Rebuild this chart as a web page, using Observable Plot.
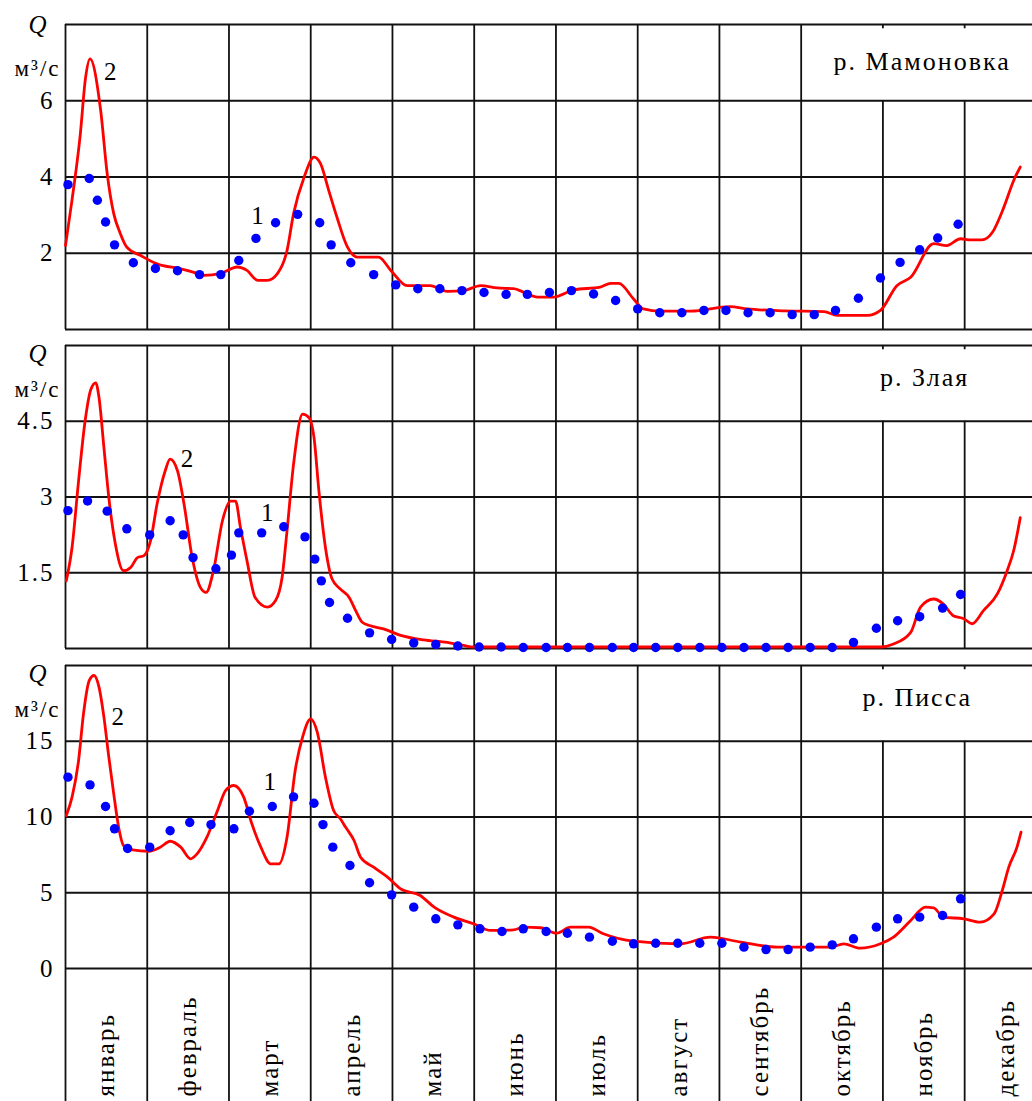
<!DOCTYPE html>
<html><head><meta charset="utf-8">
<script src="https://cdn.jsdelivr.net/npm/d3@7"></script>
<script src="https://cdn.jsdelivr.net/npm/@observablehq/plot@0.6"></script>
<style>
body{margin:0;background:#fff;}
#chart{width:1032px;}
#chart svg{display:block;}
</style></head><body><div id="chart"></div>
<script>
// ---- shared categories ----
const months = ["январь","февраль","март","апрель","май","июнь","июль","август","сентябрь","октябрь","ноябрь","декабрь"];
const monthBounds = [0,1,2,3,4,5,6,7,8,9,10,11];

// ---- р. Мамоновка ----
const mamTicks = [2,4,6];
const mamGrid = [0,2,4,6,8];
const mamDotX = [0.03,0.29,0.39,0.49,0.60,0.83,1.10,1.37,1.64,1.90,2.12,2.33,2.57,2.84,3.11,3.25,3.49,3.77,4.04,4.31,4.58,4.85,5.12,5.39,5.65,5.92,6.19,6.46,6.73,7.00,7.27,7.54,7.81,8.08,8.35,8.62,8.89,9.16,9.42,9.70,9.97,10.21,10.45,10.67,10.92];
const mamDotQ = [3.80,3.96,3.39,2.82,2.22,1.75,1.60,1.54,1.44,1.44,1.81,2.39,2.80,3.02,2.80,2.22,1.75,1.44,1.17,1.07,1.07,1.02,0.97,0.92,0.92,0.97,1.02,0.93,0.76,0.54,0.44,0.44,0.50,0.50,0.44,0.44,0.39,0.39,0.50,0.82,1.35,1.76,2.09,2.40,2.76];
const mamLineX = [0.00,0.08,0.18,0.245,0.30,0.43,0.51,0.59,0.67,0.75,0.92,1.12,1.41,1.57,1.69,1.90,2.10,2.22,2.35,2.47,2.59,2.71,2.79,2.92,3.04,3.12,3.22,3.32,3.45,3.57,3.83,3.98,4.18,4.46,4.67,4.87,5.08,5.28,5.48,5.77,5.97,6.22,6.54,6.67,6.77,6.95,7.07,7.28,7.65,8.13,8.34,8.80,9.28,9.44,9.81,9.97,10.17,10.34,10.62,10.78,10.95,11.07,11.21,11.34,11.48,11.60,11.68];
const mamLineQ = [2.2,3.4,5.1,6.6,7.1,5.75,4.09,3.04,2.52,2.16,1.94,1.72,1.59,1.50,1.42,1.47,1.64,1.55,1.29,1.29,1.46,2.07,3.04,4.00,4.52,4.35,3.65,2.95,2.16,1.90,1.90,1.55,1.15,1.15,1.00,1.02,1.15,1.09,1.07,0.85,0.85,1.04,1.11,1.21,1.21,0.80,0.54,0.48,0.48,0.60,0.54,0.49,0.47,0.37,0.37,0.50,1.15,1.37,2.25,2.20,2.38,2.35,2.35,2.55,3.21,3.91,4.26];

// ---- р. Злая ----
const zlTicks = [1.5,3,4.5];
const zlGrid = [0,1.5,3,4.5,6];
const zlDotX = [0.03,0.27,0.51,0.75,1.03,1.28,1.44,1.56,1.84,2.03,2.12,2.40,2.67,2.93,3.05,3.13,3.23,3.45,3.72,3.99,4.26,4.53,4.80,5.06,5.33,5.60,5.88,6.14,6.41,6.69,6.95,7.22,7.49,7.76,8.03,8.30,8.57,8.84,9.11,9.38,9.64,9.92,10.18,10.45,10.73,10.95];
const zlDotQ = [2.73,2.92,2.72,2.37,2.25,2.53,2.25,1.80,1.58,1.85,2.29,2.29,2.41,2.21,1.77,1.34,0.91,0.60,0.31,0.18,0.11,0.08,0.05,0.03,0.03,0.02,0.02,0.02,0.02,0.02,0.02,0.02,0.02,0.02,0.02,0.02,0.02,0.02,0.02,0.02,0.12,0.40,0.55,0.63,0.80,1.07];
const zlLineX = [0.01,0.08,0.16,0.24,0.31,0.37,0.41,0.47,0.53,0.61,0.71,0.80,0.88,0.96,1.04,1.12,1.22,1.28,1.37,1.45,1.55,1.65,1.72,1.81,1.92,2.02,2.08,2.14,2.22,2.32,2.47,2.57,2.65,2.71,2.79,2.90,2.98,3.04,3.10,3.18,3.26,3.36,3.47,3.55,3.63,3.73,3.89,4.10,4.38,4.67,4.87,4.99,9.97,10.13,10.34,10.46,10.62,10.74,10.86,10.99,11.09,11.23,11.40,11.52,11.60,11.68];
const zlLineQ = [1.34,2.0,3.32,4.51,5.13,5.26,4.97,3.98,2.99,2.07,1.54,1.61,1.80,1.84,2.13,2.86,3.52,3.75,3.52,2.86,1.80,1.21,1.11,1.54,2.53,2.92,2.92,2.40,1.74,1.01,0.82,0.95,1.41,2.33,3.65,4.64,4.57,4.18,3.12,2.0,1.38,1.18,1.01,0.75,0.52,0.45,0.39,0.26,0.17,0.12,0.06,0.03,0.03,0.09,0.32,0.82,0.98,0.88,0.65,0.59,0.49,0.75,1.08,1.54,1.94,2.59];

// ---- р. Писса ----
const piTicks = [0,5,10,15];
const piGrid = [0,5,10,15,20];
const piDotX = [0.03,0.30,0.49,0.60,0.76,1.03,1.28,1.52,1.78,2.06,2.25,2.53,2.79,3.04,3.15,3.27,3.48,3.72,3.99,4.26,4.53,4.80,5.07,5.34,5.60,5.88,6.14,6.41,6.69,6.95,7.22,7.49,7.76,8.03,8.30,8.57,8.84,9.11,9.38,9.64,9.92,10.18,10.45,10.73,10.95];
const piDotQ = [12.63,12.12,10.69,9.22,7.92,8.01,9.09,9.64,9.50,9.22,10.38,10.69,11.33,10.91,9.50,8.01,6.80,5.66,4.86,4.05,3.28,2.88,2.62,2.44,2.62,2.44,2.33,2.07,1.80,1.63,1.67,1.67,1.67,1.67,1.41,1.25,1.25,1.41,1.56,1.96,2.73,3.28,3.39,3.50,4.60];
const piLineX = [0.01,0.08,0.16,0.22,0.29,0.35,0.41,0.47,0.53,0.59,0.65,0.71,0.82,1.02,1.16,1.28,1.41,1.53,1.61,1.73,1.86,1.96,2.06,2.18,2.28,2.39,2.51,2.61,2.71,2.81,2.90,3.00,3.08,3.18,3.28,3.36,3.43,3.53,3.61,3.77,3.94,4.10,4.34,4.51,4.75,4.99,5.20,5.48,5.61,5.81,6.01,6.18,6.40,6.58,6.95,7.52,7.89,8.26,8.71,9.36,9.52,9.72,9.97,10.13,10.34,10.52,10.62,10.74,10.99,11.19,11.36,11.46,11.54,11.64,11.69];
const piLineQ = [10.1,11.31,13.73,16.81,19.0,19.34,18.57,16.59,13.95,11.53,9.33,8.12,7.83,7.74,8.01,8.40,8.01,7.24,7.57,8.67,10.43,11.75,12.08,11.31,9.55,8.01,6.91,6.91,8.67,13.07,15.27,16.48,15.60,12.63,10.43,9.90,9.30,8.45,7.35,6.69,6.03,5.26,4.82,4.05,3.39,2.95,2.51,2.55,2.73,2.69,2.33,2.73,2.73,2.29,1.80,1.63,2.07,1.74,1.41,1.41,1.63,1.34,1.63,2.07,3.17,4.05,4.00,3.39,3.28,3.06,3.61,5.15,6.69,8.01,9.00];

const F = "Liberation Serif";
const gridStyle = {stroke:"#111", strokeWidth:1.8};
const txt = {fontFamily:F, fill:"#000"};

function panel(c){
  const dots = c.dotX.map((x,i)=>({x, q:c.dotQ[i]}));
  const line = c.lineX.map((x,i)=>({x, q:c.lineQ[i]}));
  const top = c.grid[c.grid.length-1];
  const marks = [
    Plot.ruleY(c.grid, gridStyle),
    Plot.ruleX(monthBounds.filter(b=>b<10), gridStyle),
    Plot.ruleX(monthBounds.filter(b=>b>=10), {y1:0, y2:c.boxBottom, ...gridStyle}),
    Plot.ruleX(monthBounds.filter(b=>b>=10), {y1:top, y2:top*0.986, ...gridStyle}),
    Plot.axisY(c.ticks, {tickSize:0, tickPadding:11, fontSize:25, tickFormat:d=>String(d), ...txt}),
    Plot.line(line, {x:"x", y:"q", stroke:"#ff0000", strokeWidth:2.8, curve:"monotone-x"}),
    Plot.dot(dots, {x:"x", y:"q", r:4.7, fill:"#0000ff", stroke:"none"}),
    Plot.text([c.title], {x:c.titleX, y:c.titleQ, fontSize:26, ...txt}),
    Plot.text(c.labels, {x:"x", y:"q", text:"t", fontSize:25, ...txt}),
    Plot.text(["Q"], {frameAnchor:"top-left", dx:-27, dy:c.qDy, fontStyle:"italic", fontSize:25, textAnchor:"middle", lineAnchor:"middle", ...txt}),
    Plot.text(["м³/с"], {frameAnchor:"top-left", dx:-28, dy:44, fontSize:23, textAnchor:"middle", lineAnchor:"middle", ...txt})
  ];
  if (c.months) {
    marks.push(Plot.axisX(monthBounds, {anchor:"bottom", tickSize:133, tickFormat:()=>"", stroke:"#111", strokeWidth:1.8, label:null}));
    marks.push(Plot.text(months, {x:(d,i)=>i+0.5, frameAnchor:"bottom", dy:128, rotate:-90, textAnchor:"start", lineAnchor:"middle", fontSize:25, ...txt}));
  }
  return Plot.plot({
    width:1032, height:c.height,
    marginLeft:65, marginRight:0, marginTop:c.mt, marginBottom:c.mb,
    x:{domain:[0,11.83], axis:null, label:null},
    y:{domain:[0,top], label:null},
    style:{fontFamily:F, fontSize:"24px", background:"#fff", color:"#000", overflow:"visible", letterSpacing:"2px"},
    marks
  });
}

const chart = document.getElementById("chart");
chart.append(panel({
  grid:mamGrid, ticks:mamTicks, dotX:mamDotX, dotQ:mamDotQ, lineX:mamLineX, lineQ:mamLineQ,
  boxBottom:6, title:"р. Мамоновка", titleX:10.48, titleQ:7.03,
  labels:[{x:0.56,q:6.75,t:"2"},{x:2.36,q:2.99,t:"1"}],
  qDy:0, height:337, mt:24, mb:8
}));
chart.append(panel({
  grid:zlGrid, ticks:zlTicks, dotX:zlDotX, dotQ:zlDotQ, lineX:zlLineX, lineQ:zlLineQ,
  boxBottom:4.5, title:"р. Злая", titleX:10.51, titleQ:5.36,
  labels:[{x:1.50,q:3.75,t:"2"},{x:2.48,q:2.69,t:"1"}],
  qDy:8, height:320, mt:8, mb:9
}));
chart.append(panel({
  grid:piGrid, ticks:piTicks, dotX:piDotX, dotQ:piDotQ, lineX:piLineX, lineQ:piLineQ,
  boxBottom:15, title:"р. Писса", titleX:10.42, titleQ:17.9,
  labels:[{x:0.65,q:16.57,t:"2"},{x:2.51,q:12.28,t:"1"}],
  qDy:8, height:444, mt:8, mb:133, months:true
}));
</script></body></html>
